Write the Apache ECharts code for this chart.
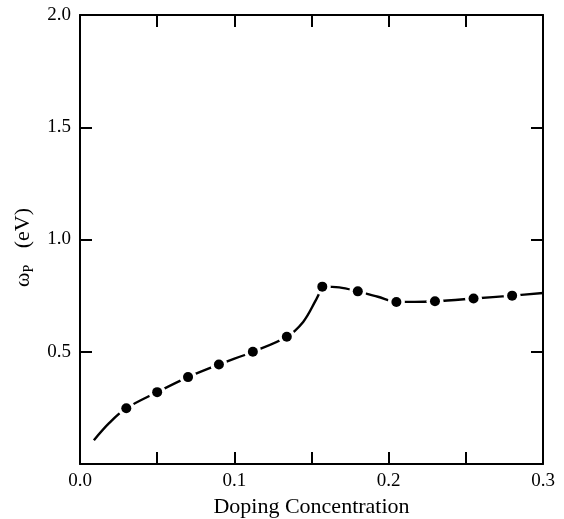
<!DOCTYPE html>
<html>
<head>
<meta charset="utf-8">
<script src="https://cdn.jsdelivr.net/npm/echarts@6/dist/echarts.min.js"></script>
<style>
  html, body { margin: 0; padding: 0; background: #fff; }
  #chart { width: 564px; height: 519px; }
</style>
</head>
<body>
<div id="chart"></div>
<script>
// Measured plasma frequency vs doping
const dopingX = [0.03, 0.05, 0.07, 0.09, 0.112, 0.134, 0.157, 0.18, 0.205, 0.23, 0.255, 0.28];
const omegaP  = [0.248, 0.32, 0.387, 0.443, 0.50, 0.567, 0.79, 0.769, 0.722, 0.725, 0.737, 0.75];

// Guide curve, rising branch up to the peak
const riseX = [0.009, 0.019, 0.03, 0.05, 0.07, 0.09, 0.112, 0.134, 0.1446, 0.1522, 0.157];
const riseY = [0.106, 0.183, 0.248, 0.32, 0.387, 0.443, 0.50, 0.567, 0.633, 0.722, 0.79];
// Guide curve, branch after the peak
const fallX = [0.157, 0.168, 0.18, 0.193, 0.205, 0.217, 0.23, 0.255, 0.28, 0.3];
const fallY = [0.79, 0.787, 0.769, 0.745, 0.722, 0.722, 0.725, 0.737, 0.75, 0.762];

const xTicks = [0.0, 0.1, 0.2, 0.3];
const yTicks = [0.5, 1.0, 1.5, 2.0];

const pairs = (xs, ys) => xs.map((x, i) => [x, ys[i]]);
const font = '"Liberation Serif", "DejaVu Serif", serif';
const ink = '#000';

const axisLine = { show: true, onZero: false, lineStyle: { color: ink, width: 2 } };
const tick = { show: true, inside: true, length: 12, lineStyle: { color: ink, width: 2 } };

const chart = echarts.init(document.getElementById('chart'), null, { renderer: 'canvas' });
chart.setOption({
  animation: false,
  backgroundColor: '#fff',
  grid: { left: 80, right: 21, top: 15, bottom: 55, containLabel: false, outerBoundsMode: 'none' },
  xAxis: [
    {
      type: 'value', position: 'bottom', min: 0, max: 0.3, interval: 0.05,
      axisLine, axisTick: tick, splitLine: { show: false },
      axisLabel: {
        margin: 8, color: ink, fontFamily: font, fontSize: 19,
        formatter: v => xTicks.some(t => Math.abs(t - v) < 1e-6) ? v.toFixed(1) : ''
      },
      name: 'Doping Concentration', nameLocation: 'middle', nameGap: 30,
      nameTextStyle: { color: ink, fontFamily: font, fontSize: 22 }
    },
    {
      type: 'value', position: 'top', min: 0, max: 0.3, interval: 0.05,
      axisLine, axisTick: tick, axisLabel: { show: false }, splitLine: { show: false }
    }
  ],
  yAxis: [
    {
      type: 'value', position: 'left', min: 0, max: 2, interval: 0.5,
      axisLine, axisTick: tick, splitLine: { show: false },
      axisLabel: {
        margin: 9, color: ink, fontFamily: font, fontSize: 19,
        formatter: v => yTicks.some(t => Math.abs(t - v) < 1e-6) ? v.toFixed(1) : ''
      },
      name: '{w|ω}{s|P}{w|   (eV)}', nameLocation: 'middle', nameRotate: 90, nameGap: 40,
      nameTextStyle: {
        color: ink, fontFamily: font, fontSize: 22, padding: [0, 16, 0, 0],
        rich: {
          w: { fontFamily: font, fontSize: 22, color: ink, lineHeight: 26, verticalAlign: 'middle' },
          s: { fontFamily: font, fontSize: 14, color: ink, lineHeight: 26, verticalAlign: 'bottom', padding: [9, 0, 0, 0] }
        }
      }
    },
    {
      type: 'value', position: 'right', min: 0, max: 2, interval: 0.5,
      axisLine, axisTick: tick, axisLabel: { show: false }, splitLine: { show: false }
    }
  ],
  series: [
    {
      type: 'line', data: pairs(riseX, riseY), smooth: 0.35, showSymbol: false,
      lineStyle: { color: ink, width: 2.4 }, z: 2, silent: true
    },
    {
      type: 'line', data: pairs(fallX, fallY), smooth: 0.35, showSymbol: false,
      lineStyle: { color: ink, width: 2.4 }, z: 2, silent: true
    },
    {
      // white halo that opens a small gap in the curve around each marker
      type: 'scatter', data: pairs(dopingX, omegaP), symbol: 'circle', symbolSize: 17,
      itemStyle: { color: '#fff', opacity: 1 }, z: 3, silent: true
    },
    {
      type: 'scatter', data: pairs(dopingX, omegaP), symbol: 'circle', symbolSize: 10,
      itemStyle: { color: ink, opacity: 1 }, z: 4, silent: true
    }
  ]
});
</script>
</body>
</html>
